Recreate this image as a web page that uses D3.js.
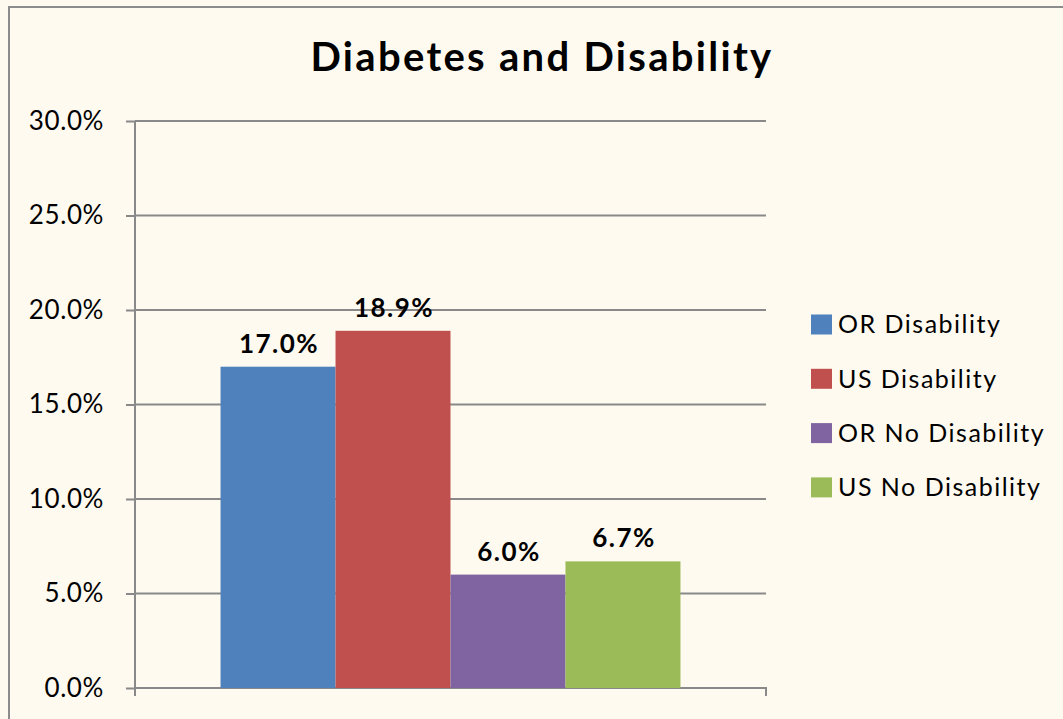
<!DOCTYPE html>
<html><head><meta charset="utf-8">
<script src="https://cdn.jsdelivr.net/npm/d3@7"></script>
<style>html,body{margin:0;padding:0;background:#fefaf0;}svg{display:block;}</style>
</head><body>
<script>
const title = "Diabetes and Disability";
const categories = [""];
const seriesNames = ["OR Disability", "US Disability", "OR No Disability", "US No Disability"];
const seriesValues = [17.0, 18.9, 6.0, 6.7];
const seriesColors = ["#4f81bd", "#c0504d", "#8064a2", "#9bbb59"];
const yTicks = [0, 5, 10, 15, 20, 25, 30];

const W = 1063, H = 719;
const font = "Lato, 'Open Sans', sans-serif";
const svg = d3.select("body").append("svg").attr("width", W).attr("height", H);
svg.append("rect").attr("width", W).attr("height", H).attr("fill", "#fefaf0");
// chart border (right/bottom off-canvas)
svg.append("rect").attr("x", 9).attr("y", 7).attr("width", W + 20).attr("height", H + 20)
  .attr("fill", "none").attr("stroke", "#8c8c8c").attr("stroke-width", 2);

const plot = {left: 135, right: 766, top: 121, bottom: 688};
const y = d3.scaleLinear().domain([0, 30]).range([plot.bottom, plot.top]);
const x0 = d3.scaleBand().domain(categories).range([plot.left, plot.right]).paddingInner(0).paddingOuter(0.186);
const x1 = d3.scaleBand().domain(seriesNames).range([0, x0.bandwidth()]).padding(0);

// gridlines
svg.append("g").selectAll("line").data(yTicks.filter(d => d > 0)).join("line")
  .attr("x1", plot.left).attr("x2", plot.right)
  .attr("y1", d => y(d)).attr("y2", d => y(d))
  .attr("stroke", "#898989").attr("stroke-width", 2);

// y axis
const yAxis = d3.axisLeft(y).tickValues(yTicks).tickSize(9).tickPadding(22)
  .tickFormat(d => d.toFixed(1) + "%");
const gy = svg.append("g").attr("transform", `translate(${plot.left},0)`).call(yAxis);
gy.select(".domain").attr("stroke", "#898989").attr("stroke-width", 2).attr("d", `M0,${plot.top}V${plot.bottom + 8}`);
gy.selectAll(".tick line").attr("stroke", "#898989").attr("stroke-width", 2);
gy.selectAll(".tick text").attr("font-family", font).attr("font-size", 26).attr("fill", "#000")
  .attr("letter-spacing", "0.6px");

// x axis
const gx = svg.append("g").attr("transform", `translate(0,${plot.bottom})`)
  .call(d3.axisBottom(x0).tickSize(0).tickFormat(""));
gx.select(".domain").attr("stroke", "#898989").attr("stroke-width", 2)
  .attr("d", `M${plot.left},8V0H${plot.right}V8`);

// bars
const g = svg.append("g").attr("transform", `translate(${x0(categories[0])},0)`);
const data = seriesNames.map((n, i) => ({name: n, value: seriesValues[i], color: seriesColors[i]}));
g.selectAll("rect").data(data).join("rect")
  .attr("x", d => x1(d.name)).attr("width", x1.bandwidth())
  .attr("y", d => y(d.value)).attr("height", d => y(0) - y(d.value))
  .attr("fill", d => d.color);
g.selectAll("text").data(data).join("text")
  .attr("x", d => x1(d.name) + x1.bandwidth() / 2 + 1).attr("y", d => y(d.value) - 14)
  .attr("text-anchor", "middle").attr("font-family", font).attr("font-weight", "bold")
  .attr("font-size", 26).attr("letter-spacing", "1.5px").attr("fill", "#000").text(d => d.value.toFixed(1) + "%");

// title
svg.append("text").attr("x", 542).attr("y", 71).attr("text-anchor", "middle")
  .attr("font-family", font).attr("font-weight", "bold").attr("font-size", 40).attr("letter-spacing", "2.3px").attr("fill", "#000")
  .text(title);

// legend
const lg = svg.append("g").selectAll("g").data(data).join("g")
  .attr("transform", (d, i) => `translate(811,${324.5 + i * 54.3})`);
lg.append("rect").attr("x", 0).attr("y", -10).attr("width", 21).attr("height", 20).attr("fill", d => d.color);
lg.append("text").attr("x", 27).attr("y", 0).attr("dy", "0.35em")
  .attr("font-family", font).attr("font-size", 25).attr("letter-spacing", "1.5px").attr("fill", "#000").text(d => d.name);
</script>
</body></html>
